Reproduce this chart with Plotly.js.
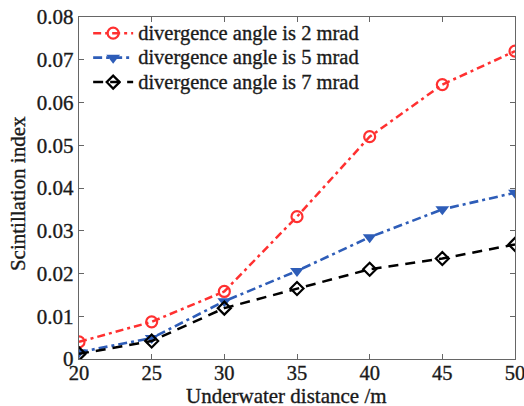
<!DOCTYPE html>
<html>
<head>
<meta charset="utf-8">
<script src="https://cdn.plot.ly/plotly-3.0.1.min.js"></script>
<style>
  html, body { margin: 0; padding: 0; background: #fff; }
  #chart { width: 524px; height: 406px; }
  /* slightly heavier glyphs for the serif text */
  #chart .main-svg text { stroke: #1a1a1a; stroke-width: 0.35px; }
</style>
</head>
<body>
<div id="chart"></div>
<script>
// Underwater distance (m)
const distance = [20, 25, 30, 35, 40, 45, 50];

// Scintillation index for each beam divergence angle
const div2mrad = [0.0040, 0.0087, 0.0158, 0.0333, 0.0520, 0.0642, 0.0720];
const div5mrad = [0.0016, 0.0049, 0.0135, 0.0206, 0.0285, 0.0350, 0.0389];
const div7mrad = [0.0012, 0.0042, 0.0119, 0.0165, 0.0210, 0.0235, 0.0268];

const seriesNames = [
  'divergence angle is 2 mrad',
  'divergence angle is 5 mrad',
  'divergence angle is 7 mrad'
];

const yTickVals = [0, 0.01, 0.02, 0.03, 0.04, 0.05, 0.06, 0.07, 0.08];
const yTickText = ['0', '0.01', '0.02', '0.03', '0.04', '0.05', '0.06', '0.07', '0.08'];
const xTickVals = [20, 25, 30, 35, 40, 45, 50];

const xTitle = 'Underwater distance /m';
const yTitle = 'Scintillation index';

const serif = 'Liberation Serif, DejaVu Serif, serif';
const ink = '#1a1a1a';
const frame = '#666';

// legend rows are spaced by the legend font size; the label itself is drawn larger
const legendLabel = s => '<span style="font-size:20.5px">' + s + '</span>';

const traces = [
  {
    x: distance, y: div2mrad, name: legendLabel(seriesNames[0]),
    mode: 'lines+markers', type: 'scatter',
    line: { color: '#ff3030', width: 2.5, dash: '8px,4px,3px,4px' },
    marker: { symbol: 'circle-open', size: 11, color: '#ff3030', line: { width: 2.2 } }
  },
  {
    x: distance, y: div5mrad, name: legendLabel(seriesNames[1]),
    mode: 'lines+markers', type: 'scatter',
    line: { color: '#2e5db8', width: 2.6, dash: '9px,4px,3px,4px' },
    marker: { symbol: 'triangle-down', size: 12, color: '#2e5db8' }
  },
  {
    x: distance, y: div7mrad, name: legendLabel(seriesNames[2]),
    mode: 'lines+markers', type: 'scatter',
    line: { color: '#000000', width: 2.5, dash: '10px,7px' },
    marker: { symbol: 'diamond-open', size: 10, color: '#000000', line: { width: 2.2 } }
  }
];

const layout = {
  width: 524, height: 406,
  margin: { l: 79, r: 9, t: 17, b: 47 },
  paper_bgcolor: '#fff', plot_bgcolor: '#fff',
  font: { family: serif, color: ink, size: 21 },
  showlegend: true,
  legend: {
    x: 0.021, y: 1.003, xanchor: 'left', yanchor: 'top',
    bgcolor: 'rgba(0,0,0,0)', borderwidth: 0,
    font: { family: serif, size: 16.5, color: ink },
    tracegroupgap: 0, itemwidth: 40
  },
  xaxis: {
    range: [20, 50], tickvals: xTickVals,
    ticks: 'inside', ticklen: 5, tickcolor: frame,
    showline: true, linecolor: frame, linewidth: 1.2, mirror: 'ticks',
    showgrid: false, zeroline: false,
    ticklabeloverflow: 'allow', ticklabelstandoff: -5,
    tickfont: { family: serif, size: 20.5, color: ink }
  },
  yaxis: {
    range: [0, 0.08], tickvals: yTickVals, ticktext: yTickText,
    ticks: 'inside', ticklen: 5, tickcolor: frame,
    showline: true, linecolor: frame, linewidth: 1.2, mirror: 'ticks',
    showgrid: false, zeroline: false,
    ticklabeloverflow: 'allow', ticklabelstandoff: 0,
    tickfont: { family: serif, size: 21, color: ink }
  },
  annotations: [
    {
      text: xTitle, xref: 'paper', yref: 'paper', x: 0.475, y: -0.108,
      xanchor: 'center', yanchor: 'middle', showarrow: false,
      font: { family: serif, size: 21, color: ink }
    },
    {
      text: yTitle, xref: 'paper', yref: 'paper', x: -0.140, y: 0.485,
      xanchor: 'center', yanchor: 'middle', textangle: -90, showarrow: false,
      font: { family: serif, size: 21, color: ink }
    }
  ]
};

Plotly.newPlot('chart', traces, layout, { displayModeBar: false, staticPlot: true });
</script>
</body>
</html>
